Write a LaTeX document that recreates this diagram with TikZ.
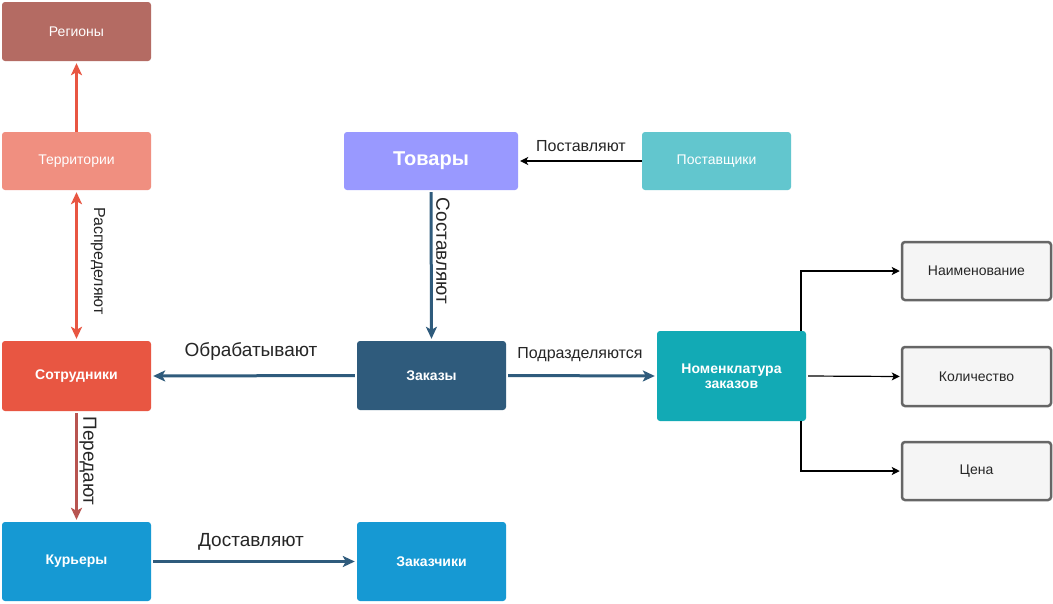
\documentclass[tikz,border=0pt]{standalone}
\usepackage{fontspec}
\setmainfont{Liberation Sans}
\usetikzlibrary{arrows.meta}
\definecolor{cReg}{HTML}{B46B63}
\definecolor{cTer}{HTML}{F08F80}
\definecolor{cSot}{HTML}{E85642}
\definecolor{cBlue}{HTML}{1699D3}
\definecolor{cNavy}{HTML}{2F5B7C}
\definecolor{cTov}{HTML}{9999FF}
\definecolor{cPost}{HTML}{62C6CE}
\definecolor{cNom}{HTML}{12AAB5}
\definecolor{cGrayF}{HTML}{F5F5F5}
\definecolor{cGrayS}{HTML}{666666}
\definecolor{cPer}{HTML}{B85450}
\begin{document}
\begin{tikzpicture}[x=1pt,y=-1pt,
  box/.style={rectangle, rounded corners=3pt, draw=none, text=white, align=center, inner sep=0pt, font=\fontsize{14}{16}\selectfont},
  bbox/.style={box, font=\fontsize{14}{16}\selectfont\bfseries},
  gbox/.style={rectangle, rounded corners=3pt, draw=cGrayS, line width=2.5pt, fill=cGrayF, text=black!85, align=center, inner sep=0pt, font=\fontsize{14}{16}\selectfont, minimum width=149pt, minimum height=58pt},
  tip/.style={Stealth[length=12pt,width=11pt,inset=3pt]},
  thick arrow/.style={line width=3pt, -{Stealth[length=12pt,width=11pt,inset=3pt]}},
  thin arrow/.style={line width=1.2pt, black, -{Stealth[length=8pt,width=8pt,inset=2pt]}},
  lab/.style={text=black!85, inner sep=0pt, font=\fontsize{19}{21}\selectfont},
  slab/.style={text=black!85, inner sep=0pt, font=\fontsize{16}{18}\selectfont}]
\useasboundingbox (0,0) rectangle (1053,603);
\fill[white] (0,0) rectangle (1053,603);
% nodes
\node[box, fill=cReg, minimum width=149pt, minimum height=59pt] (reg) at (76.5,31.5) {Регионы};
\node[box, fill=cTer, minimum width=149pt, minimum height=58pt] (ter) at (76.5,161) {Территории};
\node[bbox, fill=cSot, minimum width=149pt, minimum height=70pt] (sot) at (76.5,376) {Сотрудники};
\node[bbox, fill=cBlue, minimum width=149pt, minimum height=79pt] (kur) at (76.5,561.5) {Курьеры};
\node[bbox, fill=cBlue, minimum width=149pt, minimum height=79pt] (zch) at (431.5,561.5) {Заказчики};
\node[bbox, fill=cNavy, minimum width=149pt, minimum height=69pt] (zak) at (431.5,375.5) {Заказы};
\node[box, fill=cTov, minimum width=174pt, minimum height=58pt, font=\fontsize{20}{22}\selectfont\bfseries] (tov) at (431,161) {Товары};
\node[box, fill=cPost, minimum width=149pt, minimum height=58pt] (post) at (716.5,161) {Поставщики};
\node[bbox, fill=cNom, minimum width=149pt, minimum height=90pt, font=\fontsize{14}{15}\selectfont\bfseries] (nom) at (731.5,376) {Номенклатура\\заказов};
\node[gbox] (naim) at (976.5,271) {Наименование};
\node[gbox, minimum height=59pt] (kol) at (976.5,376.5) {Количество};
\node[gbox] (cena) at (976.5,471) {Цена};
% connectors
\draw[thick arrow, cSot, shorten >=2pt] (ter.north) -- (reg.south);
\draw[line width=3pt, cSot, {Stealth[length=12pt,width=11pt,inset=3pt]}-{Stealth[length=12pt,width=11pt,inset=3pt]}, shorten <=2pt, shorten >=2pt] (ter.south) -- (sot.north);
\node[slab, rotate=-90] (l1) at (98,261) {Распределяют};
\draw[thick arrow, cPer, shorten <=2pt, shorten >=2pt] (sot.south) -- (kur.north);
\node[lab, rotate=-90] (l2) at (88,461) {Передают};
\draw[thick arrow, cNavy, shorten <=2pt, shorten >=2pt] (tov.south) -- (zak.north);
\node[lab, rotate=-90] (l3) at (443,251) {Составляют};
\draw[thin arrow, shorten >=2pt] (post.west) -- (tov.east);
\node[slab] (l4) at (581,146) {Поставляют};
\draw[thick arrow, cNavy, shorten <=2pt, shorten >=2pt] (zak.west) -- (sot.east);
\node[lab] (l5) at (251,351) {Обрабатывают};
\draw[thick arrow, cNavy, shorten <=2pt, shorten >=2pt] (zak.east) -- (nom.west);
\node[slab] (l6) at (580,355) {Подразделяются};
\draw[thick arrow, cNavy, shorten <=2pt, shorten >=2pt] (kur.east) -- (zch.west);
\node[lab] (l7) at (251,542) {Доставляют};
\coordinate (nt) at (801,331);
\coordinate (nb) at (801,421);
\draw[thin arrow, shorten >=1pt] (nt) |- (naim.west);
\draw[thin arrow, shorten <=2pt, shorten >=1pt] (nom.east) -- (kol.west);
\draw[thin arrow, shorten >=1pt] (nb) |- (cena.west);
\end{tikzpicture}
\end{document}
